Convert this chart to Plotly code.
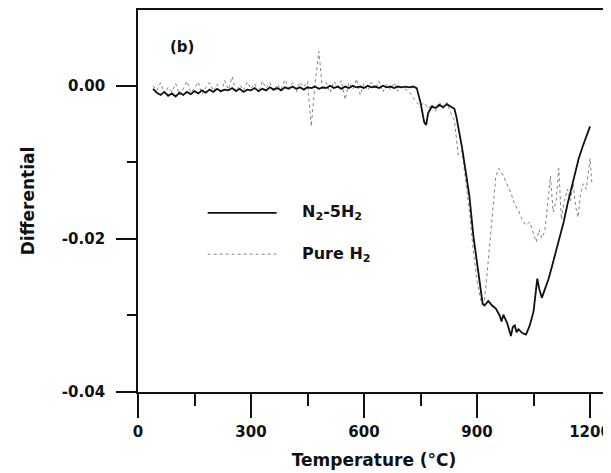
import plotly.graph_objects as go

# ---- data ----
temp_n2 = [40, 50, 60, 70, 80, 90, 100, 110, 120, 130, 140, 150, 160, 170, 180, 190, 200,
           210, 220, 230, 240, 250, 260, 270, 280, 290, 300, 310, 320, 330, 340, 350, 360,
           370, 380, 390, 400, 410, 420, 430, 440, 450, 460, 470, 480, 490, 500, 510, 520,
           530, 540, 550, 560, 570, 580, 590, 600, 610, 620, 630, 640, 650, 660, 670, 680,
           690, 700, 710, 720, 730, 740, 750, 760, 765, 770, 780, 790, 800, 810, 820, 830,
           840, 845, 850, 860, 870, 880, 890, 900, 910, 915, 920, 930, 940, 950, 960, 965,
           970, 980, 990, 995, 1000, 1005, 1010, 1020, 1030, 1040, 1050, 1055, 1060, 1065,
           1072, 1080, 1090, 1100, 1110, 1120, 1130, 1140, 1150, 1160, 1170, 1180, 1190, 1200]
diff_n2 = [-0.0004, -0.0009, -0.0012, -0.0008, -0.0013, -0.0010, -0.0014, -0.0009, -0.0012,
           -0.0008, -0.0011, -0.0007, -0.0010, -0.0006, -0.0009, -0.0005, -0.0008, -0.0004,
           -0.0007, -0.0005, -0.0006, -0.0003, -0.0007, -0.0004, -0.0008, -0.0005, -0.0006,
           -0.0003, -0.0007, -0.0004, -0.0006, -0.0002, -0.0005, -0.0003, -0.0006, -0.0002,
           -0.0004, -0.0001, -0.0004, -0.0002, -0.0005, -0.0002, -0.0003, -0.0001, -0.0004,
           -0.0002, -0.0003, 0.0000, -0.0003, -0.0001, -0.0004, -0.0001, -0.0003, 0.0000,
           -0.0002, -0.0001, -0.0003, 0.0000, -0.0002, -0.0001, -0.0003, 0.0000, -0.0002,
           -0.0001, -0.0003, -0.0001, -0.0002, -0.0001, -0.0002, -0.0001, -0.0003, -0.0022,
           -0.0048, -0.0051, -0.0036, -0.0027, -0.0029, -0.0025, -0.0028, -0.0024, -0.0027,
           -0.0030, -0.0040, -0.0052, -0.0080, -0.0112, -0.0145, -0.0195, -0.0232, -0.0270,
           -0.0285, -0.0287, -0.0281, -0.0287, -0.0291, -0.0300, -0.0308, -0.0299, -0.0310,
           -0.0327, -0.0315, -0.0313, -0.0322, -0.0318, -0.0323, -0.0325, -0.0313, -0.0295,
           -0.0270, -0.0252, -0.0265, -0.0277, -0.0266, -0.0252, -0.0234, -0.0215, -0.0195,
           -0.0178, -0.0155, -0.0135, -0.0113, -0.0095, -0.0080, -0.0066, -0.0053]

temp_h2 = [40, 50, 60, 70, 80, 90, 100, 110, 120, 130, 140, 150, 160, 170, 180, 190, 200,
           210, 220, 230, 240, 250, 260, 270, 280, 290, 300, 310, 320, 330, 340, 350, 360,
           370, 380, 390, 400, 410, 420, 430, 440, 450, 460, 470, 480, 490, 500, 510, 520,
           530, 540, 550, 560, 570, 580, 590, 600, 610, 620, 630, 640, 650, 660, 670, 680,
           690, 700, 710, 720, 730, 740, 750, 760, 770, 780, 790, 800, 810, 820, 830, 840,
           850, 860, 870, 880, 890, 900, 910, 918, 925, 932, 940, 950, 958, 965, 972, 980,
           990, 1000, 1010, 1020, 1030, 1040, 1050, 1057, 1065, 1072, 1080, 1088, 1095, 1102,
           1110, 1117, 1124, 1132, 1140, 1148, 1155, 1162, 1168, 1175, 1182, 1190, 1195, 1200,
           1205]
diff_h2 = [0.0000, -0.0006, 0.0004, -0.0010, -0.0002, -0.0008, 0.0003, -0.0012, -0.0004,
           0.0006, -0.0009, -0.0003, 0.0005, -0.0011, -0.0002, 0.0004, -0.0007, 0.0002,
           -0.0010, 0.0007, -0.0005, 0.0012, -0.0008, 0.0001, -0.0006, 0.0005, -0.0004,
           0.0003, -0.0009, 0.0006, -0.0003, 0.0004, -0.0007, 0.0002, -0.0005, 0.0008,
           -0.0003, 0.0004, -0.0008, 0.0005, -0.0002, 0.0006, -0.0053, 0.0003, 0.0045,
           -0.0006, 0.0004, -0.0009, 0.0006, -0.0002, 0.0007, -0.0018, 0.0004, -0.0005,
           0.0009, -0.0012, 0.0003, -0.0006, 0.0005, -0.0004, 0.0006, -0.0008, 0.0002,
           -0.0005, 0.0004, -0.0007, -0.0001, -0.0004, -0.0008, -0.0015, -0.0022, -0.0026,
           -0.0022, -0.0030, -0.0024, -0.0033, -0.0021, -0.0030, -0.0022, -0.0035, -0.0045,
           -0.0090, -0.0085, -0.0125, -0.0165, -0.0215, -0.0255, -0.0280, -0.0286, -0.0255,
           -0.0215, -0.0165, -0.0118, -0.0108, -0.0113, -0.0120, -0.0128, -0.0140, -0.0155,
           -0.0163, -0.0175, -0.0182, -0.0178, -0.0195, -0.0204, -0.0188, -0.0199, -0.0190,
           -0.0150, -0.0118, -0.0165, -0.0150, -0.0108, -0.0175, -0.0150, -0.0135, -0.0150,
           -0.0128, -0.0158, -0.0172, -0.0140, -0.0128, -0.0135, -0.0115, -0.0095, -0.0128]

x_ticks = [0, 300, 600, 900, 1200]
x_minor = [150, 450, 750, 1050]
y_ticks = [-0.04, -0.02, 0.00]
y_ticktext = ["-0.04", "-0.02", "0.00"]
y_minor = [-0.03, -0.01]

FONT = "DejaVu Sans"
INK = "#111111"

fig = go.Figure()
fig.add_trace(go.Scatter(x=temp_h2, y=diff_h2, mode="lines", name="Pure H2",
                         line=dict(color="#808080", width=1, dash="dot")))
fig.add_trace(go.Scatter(x=temp_n2, y=diff_n2, mode="lines", name="N2-5H2",
                         line=dict(color=INK, width=1.8)))

# manual legend (long line samples)
leg_y = [-0.0166, -0.0220]
leg_styles = [dict(color=INK, width=1.8), dict(color="#888888", width=1, dash="dot")]
leg_text = ["N<sub>2</sub>-5H<sub>2</sub>", "Pure H<sub>2</sub>"]
for yy, st, tx in zip(leg_y, leg_styles, leg_text):
    fig.add_shape(type="line", xref="x", yref="y", x0=185, x1=368, y0=yy, y1=yy, line=st)
    fig.add_annotation(x=430, y=yy, xref="x", yref="y", text=tx, showarrow=False,
                       xanchor="left", yanchor="middle",
                       font=dict(family=FONT, size=16, color=INK, weight="bold"))

fig.add_annotation(x=80, y=0.0051, xref="x", yref="y", text="(b)", showarrow=False,
                   xanchor="left", yanchor="middle",
                   font=dict(family=FONT, size=15, color=INK, weight="bold"))

# partial right frame line
fig.add_shape(type="line", xref="paper", yref="y", x0=1, x1=1, y0=-0.0198, y1=-0.04,
              line=dict(color="#333333", width=1.5))

# page body has an 8px margin, so the figure is sized to the remaining window
fig.update_layout(
    width=603, height=465,
    margin=dict(l=130, r=1, t=2, b=81),
    paper_bgcolor="white", plot_bgcolor="white",
    showlegend=False,
    font=dict(family=FONT, color=INK),
)
fig.update_xaxes(
    range=[0, 1253], tickvals=x_ticks, ticks="outside", ticklen=24, tickwidth=1.5,
    tickcolor=INK, showline=True, linecolor=INK, linewidth=1.8, mirror=True,
    showgrid=False, zeroline=False,
    tickfont=dict(family=FONT, size=15, color=INK, weight="bold"),
    ticklabelstandoff=1,
    minor=dict(tickvals=x_minor, ticks="outside", ticklen=12, tickwidth=1.5, tickcolor=INK,
               showgrid=False),
    title=dict(text="Temperature (°C)", standoff=14,
               font=dict(family=FONT, size=17, color=INK, weight="bold")),
)
fig.update_yaxes(
    range=[-0.04, 0.0099], tickvals=y_ticks, ticktext=y_ticktext, ticks="outside", ticklen=20,
    tickwidth=1.5, tickcolor=INK, showline=True, linecolor=INK, linewidth=1.8,
    showgrid=False, zeroline=False,
    tickfont=dict(family=FONT, size=15, color=INK, weight="bold"),
    ticklabelstandoff=8,
    minor=dict(tickvals=y_minor, ticks="outside", ticklen=9, tickwidth=1.5, tickcolor=INK,
               showgrid=False),
    title=dict(text="Differential", standoff=23,
               font=dict(family=FONT, size=17, color=INK, weight="bold")),
)

fig.write_html("out.html")
